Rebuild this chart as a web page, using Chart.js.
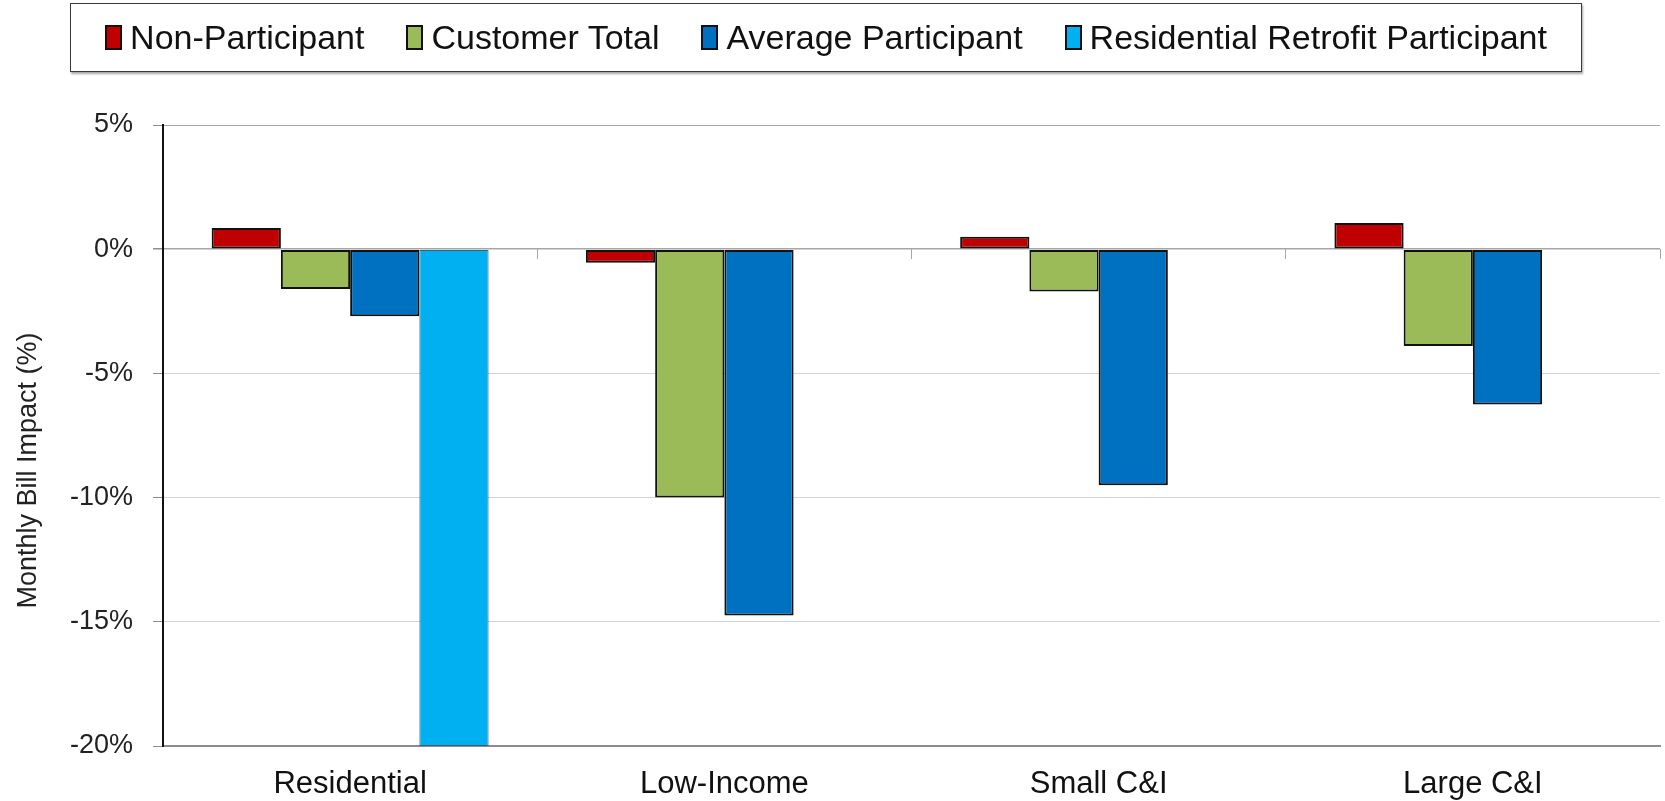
<!DOCTYPE html>
<html>
<head>
<meta charset="utf-8">
<script src="https://cdn.jsdelivr.net/npm/chart.js@4/dist/chart.umd.min.js"></script>
<style>
  html, body { margin: 0; padding: 0; background: #fff; }
  #wrap { position: relative; width: 1665px; height: 801px; }
  #legend {
    position: absolute; left: 70px; top: 3px; width: 1510px; height: 67px;
    border: 1.5px solid #3a3a3a; box-shadow: 1px 2px 2px rgba(0,0,0,0.35);
    display: flex; align-items: center; justify-content: center; gap: 42px;
    font-family: 'Liberation Sans', Arial, sans-serif; font-size: 34px; color: #111;
    background: #fff; z-index: 2;
  }
  .item { display: flex; align-items: center; gap: 8px; white-space: nowrap; }
  .swatch { width: 13px; height: 21px; border: 2px solid #111; }
</style>
</head>
<body>
<div id="wrap">
  <div id="legend"></div>
  <canvas id="chart" width="1665" height="801"></canvas>
</div>
<script>
'use strict';

// ── Data ───────────────────────────────────────────────────────
const CATEGORIES      = ['Residential', 'Low-Income', 'Small C&I', 'Large C&I'];
const NON_PARTICIPANT = [0.85, -0.55, 0.5, 1.05];
const CUSTOMER_TOTAL  = [-1.6, -10.0, -1.7, -3.9];
const AVG_PARTICIPANT = [-2.7, -14.75, -9.5, -6.25];
const RETROFIT        = [-20, null, null, null];
const Y_TICKS         = [5, 0, -5, -10, -15, -20];
const Y_TITLE         = 'Monthly Bill Impact (%)';

const SERIES = [
  { label: 'Non-Participant',                 data: NON_PARTICIPANT, color: '#c00000', border: '#111' },
  { label: 'Customer Total',                  data: CUSTOMER_TOTAL,  color: '#9bbb59', border: '#111' },
  { label: 'Average Participant',             data: AVG_PARTICIPANT, color: '#0070c0', border: '#111' },
  { label: 'Residential Retrofit Participant', data: RETROFIT,        color: '#00b0f0', border: '#3d5f74' },
];

// ── Legend (HTML, boxed) ───────────────────────────────────────
const legendEl = document.getElementById('legend');
SERIES.forEach(s => {
  const item = document.createElement('div');
  item.className = 'item';
  const sw = document.createElement('span');
  sw.className = 'swatch';
  sw.style.background = s.color;
  const txt = document.createElement('span');
  txt.textContent = s.label;
  item.append(sw, txt);
  legendEl.append(item);
});

// ── Y title, drawn a little below the axis centre like the source ──
const yTitlePlugin = {
  id: 'yTitle',
  afterDraw(chart) {
    const { ctx, chartArea } = chart;
    ctx.save();
    ctx.translate(29, (chartArea.top + chartArea.bottom) / 2 + 35);
    ctx.rotate(-Math.PI / 2);
    ctx.font = "27px 'Liberation Sans', Arial, sans-serif";
    ctx.fillStyle = '#222';
    ctx.textAlign = 'center';
    ctx.textBaseline = 'middle';
    ctx.fillText(Y_TITLE, 0, 0);
    ctx.restore();
  },
};

// ── Chart ──────────────────────────────────────────────────────
Chart.defaults.font.family = "'Liberation Sans', Arial, sans-serif";
Chart.defaults.animation = false;

new Chart(document.getElementById('chart').getContext('2d'), {
  type: 'bar',
  data: {
    labels: CATEGORIES,
    datasets: SERIES.map((s, i) => ({
      label:           s.label,
      data:            s.data,
      backgroundColor: s.color,
      borderColor:     s.border,
      borderWidth:     i === 3 ? 1 : 2,
      borderSkipped:   false,
      categoryPercentage: 0.74,
      barPercentage:   1.0,
    })),
  },
  plugins: [yTitlePlugin],
  options: {
    responsive: false,
    layout: { padding: { top: 125, right: 5, left: 0, bottom: 0 } },
    plugins: { legend: { display: false }, tooltip: { enabled: false } },
    scales: {
      x: {
        type: 'category',
        offset: true,
        grid: { display: false, offset: true },
        border: { color: '#8c8c8c', width: 2 },
        ticks: { color: '#111', font: { size: 31 }, padding: 12 },
        afterFit: s => { s.height = 55; },
      },
      xZero: {
        type: 'category',
        axis: 'x',
        position: { y: 0 },
        offset: true,
        grid: { offset: true, drawOnChartArea: false, tickLength: 10, color: '#a6a6a6' },
        border: { display: false },
        ticks: { display: false },
      },
      y: {
        min: Y_TICKS[Y_TICKS.length - 1],
        max: Y_TICKS[0],
        afterBuildTicks: s => { s.ticks = Y_TICKS.map(v => ({ value: v })); },
        grid: {
          color: c => (c.tick.value === 0 || c.tick.value === 5) ? '#a6a6a6' : '#d4d4d4',
          lineWidth: c => (c.tick.value === 0 ? 1.5 : 1),
          tickLength: 10,
          tickColor: '#8c8c8c',
        },
        border: { color: '#111', width: 2 },
        ticks: { color: '#222', font: { size: 27 }, padding: 20, callback: v => `${v}%` },
        afterFit: s => { s.width = 163; },
      },
    },
  },
});
</script>
</body>
</html>
